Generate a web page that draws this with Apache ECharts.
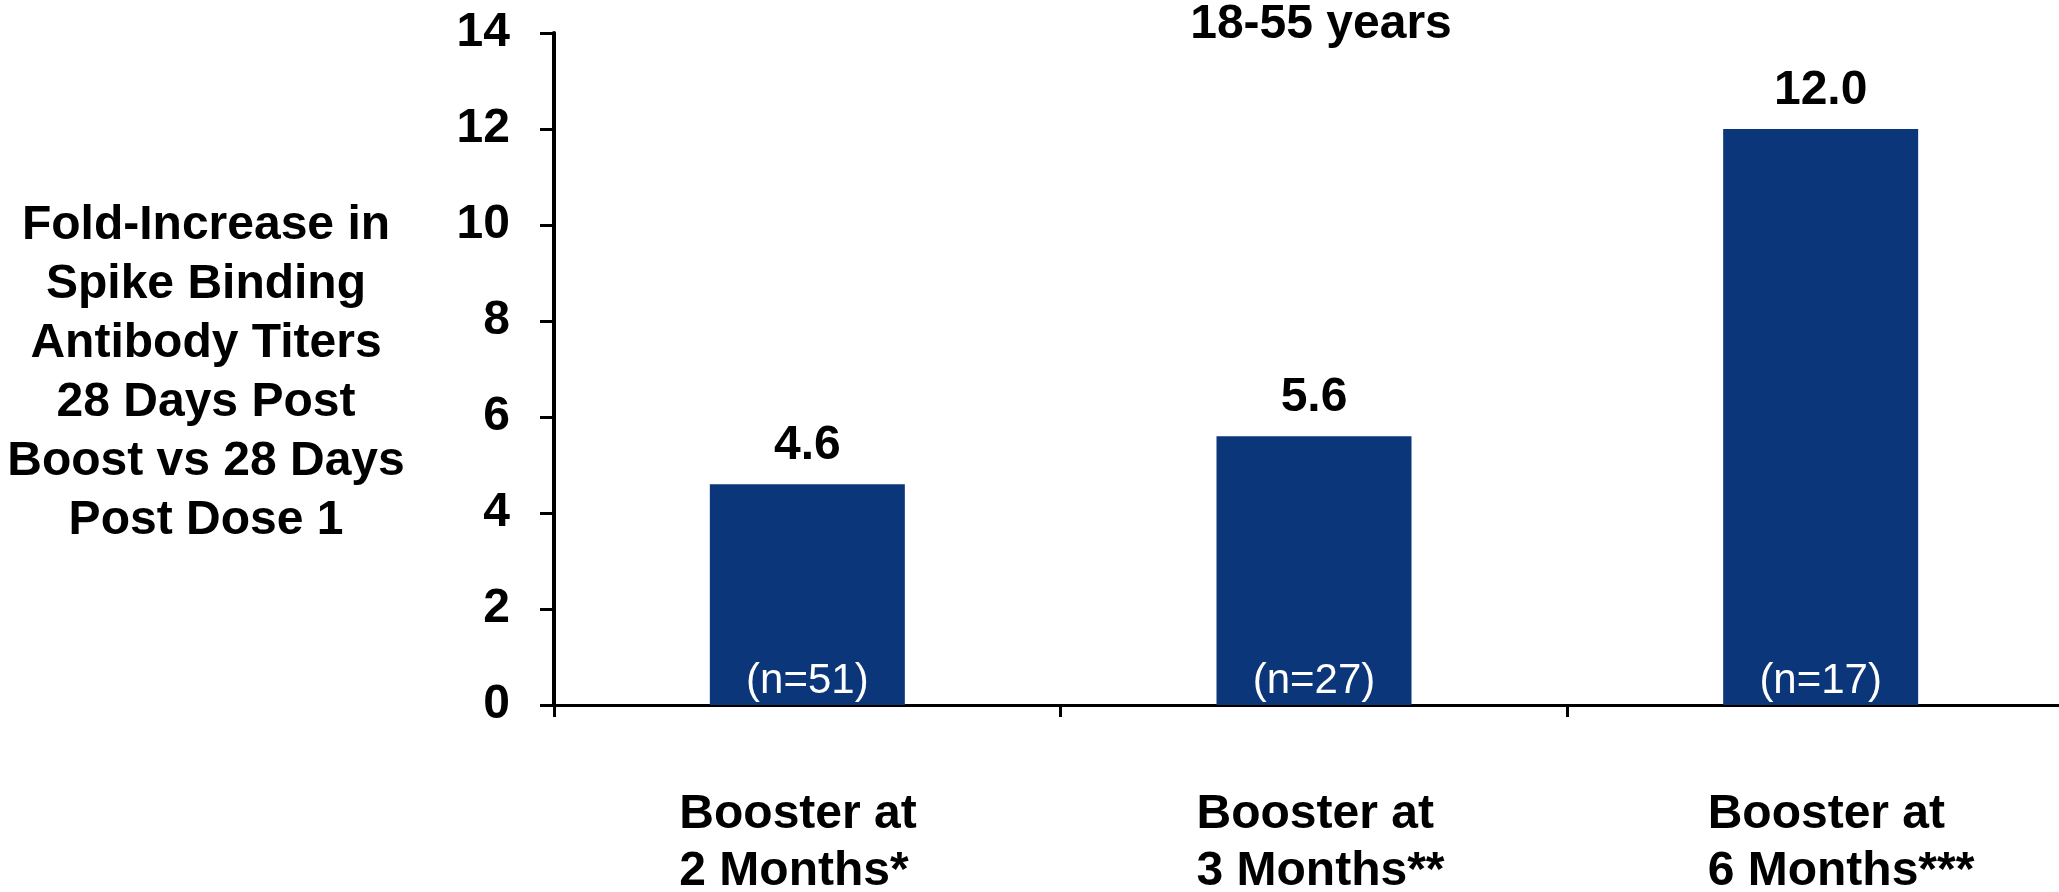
<!DOCTYPE html>
<html>
<head>
<meta charset="utf-8">
<title>Fold-Increase in Spike Binding Antibody Titers</title>
<script src="https://cdn.jsdelivr.net/npm/echarts@6/dist/echarts.min.js"></script>
<style>
  html, body { margin: 0; padding: 0; background: #ffffff; }
  #chart { width: 2059px; height: 892px; }
</style>
</head>
<body>
<div id="chart"></div>
<script>
// Booster timing groups and their fold-increase values
const categories = ['Booster at\n2 Months*', 'Booster at\n3 Months**', 'Booster at\n6 Months***'];
const foldIncrease = [4.6, 5.6, 12.0];
const sampleSizes = [51, 27, 17];
const yTicks = { min: 0, max: 14, interval: 2 };
const subtitle = '18-55 years';
const yAxisTitle = 'Fold-Increase in\nSpike Binding\nAntibody Titers\n28 Days Post\nBoost vs 28 Days\nPost Dose 1';

const FONT = '"Liberation Sans", Arial, Helvetica, sans-serif';
const BAR_COLOR = '#0b367a';

// Category labels are left-aligned text blocks; each block has its own box width
const labelBoxWidths = [256, 235, 226];
const richLabels = {};
labelBoxWidths.forEach((w, i) => {
  richLabels['c' + i] = {
    width: w,
    align: 'left',
    color: '#000000',
    fontFamily: FONT,
    fontWeight: 'bold',
    fontSize: 48,
    lineHeight: 57
  };
});

const chart = echarts.init(document.getElementById('chart'), null, { renderer: 'canvas' });

chart.setOption({
  backgroundColor: '#ffffff',
  animation: false,
  grid: { left: 554, top: 33, width: 1520, height: 672, outerBoundsMode: 'none', containLabel: false },
  graphic: [
    {
      type: 'text',
      x: 1321,
      y: 25,
      style: {
        text: subtitle,
        font: 'bold 48px ' + FONT,
        fill: '#000000',
        align: 'center',
        verticalAlign: 'middle'
      },
      z: 10
    },
    {
      type: 'text',
      x: 206,
      y: 373,
      style: {
        text: yAxisTitle,
        font: 'bold 48px ' + FONT,
        lineHeight: 59,
        fill: '#000000',
        align: 'center',
        verticalAlign: 'middle'
      },
      z: 10
    }
  ],
  xAxis: {
    type: 'category',
    data: categories,
    axisLine: { show: true, lineStyle: { color: '#000000', width: 3 } },
    axisTick: { show: true, alignWithLabel: false, length: 12, lineStyle: { color: '#000000', width: 3 } },
    axisLabel: {
      color: '#000000',
      fontFamily: FONT,
      fontWeight: 'bold',
      fontSize: 48,
      lineHeight: 57,
      margin: 81,
      interval: 0,
      formatter: (value, index) => value.split('\n').map(line => '{c' + index + '|' + line + '}').join('\n'),
      rich: richLabels
    },
    splitLine: { show: false }
  },
  yAxis: {
    type: 'value',
    min: yTicks.min,
    max: yTicks.max,
    interval: yTicks.interval,
    axisLine: { show: true, lineStyle: { color: '#000000', width: 4 } },
    axisTick: { show: true, inside: false, length: 14, lineStyle: { color: '#000000', width: 3 } },
    axisLabel: {
      color: '#000000',
      fontFamily: FONT,
      fontWeight: 'bold',
      fontSize: 48,
      margin: 44
    },
    splitLine: { show: false }
  },
  series: [
    {
      name: 'Fold-Increase',
      type: 'bar',
      data: foldIncrease,
      barWidth: 195,
      itemStyle: { color: BAR_COLOR },
      label: {
        show: true,
        position: 'top',
        distance: 14,
        color: '#000000',
        fontFamily: FONT,
        fontWeight: 'bold',
        fontSize: 48,
        formatter: p => p.value.toFixed(1)
      },
      z: 2
    },
    {
      name: 'n',
      type: 'bar',
      data: foldIncrease,
      barWidth: 195,
      barGap: '-100%',
      itemStyle: { color: 'rgba(0,0,0,0)' },
      label: {
        show: true,
        position: 'insideBottom',
        distance: 3,
        color: '#ffffff',
        fontFamily: FONT,
        fontSize: 42,
        formatter: p => '(n=' + sampleSizes[p.dataIndex] + ')'
      },
      z: 3,
      silent: true
    }
  ]
});
</script>
</body>
</html>
